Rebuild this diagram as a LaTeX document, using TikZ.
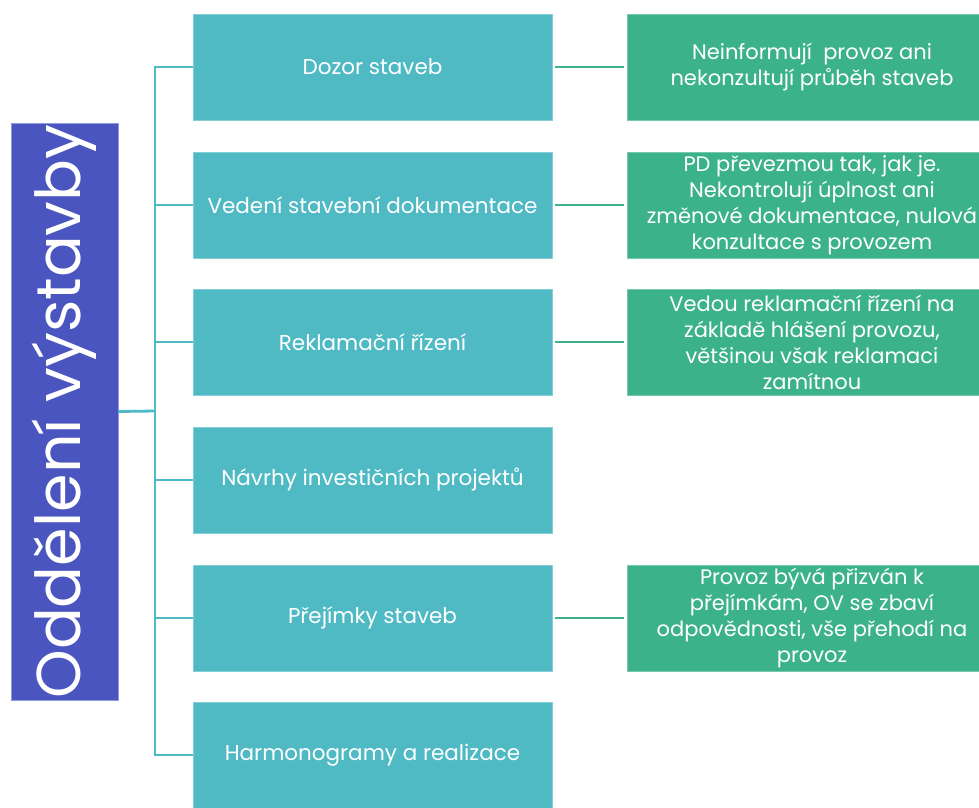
\documentclass[tikz,border=0pt]{standalone}
\usepackage{fontspec}
\setmainfont{Poppins}
\usetikzlibrary{positioning}

\definecolor{deptblue}{RGB}{75,85,192}
\definecolor{taskteal}{RGB}{79,185,196}
\definecolor{notegreen}{RGB}{60,178,139}

\tikzset{
  dept/.style={fill=deptblue, draw=deptblue!60!white, text=white, minimum width=107pt, minimum height=577pt, inner sep=0pt, font=\fontsize{62}{66}\selectfont},
  task/.style={fill=taskteal, draw=taskteal!70!white, text=white, minimum width=359pt, minimum height=106pt, inner sep=0pt, font=\fontsize{21.5}{26}\selectfont},
  note/.style={fill=notegreen, draw=notegreen!70!white, text=white, minimum width=370pt, minimum height=106pt, inner sep=0pt, align=center, font=\fontsize{21}{26}\selectfont},
  tline/.style={taskteal, line width=2.8pt},
  nline/.style={notegreen, line width=2.8pt}
}

\begin{document}
\begin{tikzpicture}[x=1pt, y=-1pt]
  \useasboundingbox (0,0) rectangle (979,807);
  \clip (0,0) rectangle (979,807);
  % department
  \node[dept] (dept) at (64.5,411.5) {\rotatebox{90}{Oddělení výstavby}};
  \coordinate (trunk) at (155,411);
  % tasks
  \node[task] (t1) at (372.5,67) {Dozor staveb};
  \node[task] (t2) at (372.5,205) {Vedení stavební dokumentace};
  \node[task] (t3) at (372.5,342) {Reklamační řízení};
  \node[task] (t4) at (372.5,480) {Návrhy investičních projektů};
  \node[task] (t5) at (372.5,618) {Přejímky staveb};
  \node[task] (t6) at (372.5,755) {Harmonogramy a realizace};
  % notes
  \node[note] (n1) at (812,67) {Neinformují\ \ provoz ani\\nekonzultují průběh staveb};
  \node[note] (n2) at (812,205) {PD převezmou tak, jak je.\\Nekontrolují úplnost ani\\změnové dokumentace, nulová\\konzultace s provozem};
  \node[note] (n3) at (812,342) {Vedou reklamační řízení na\\základě hlášení provozu,\\většinou však reklamaci\\zamítnou};
  \node[note] (n5) at (812,618) {Provoz bývá přizván k\\přejímkám, OV se zbaví\\odpovědnosti, vše přehodí na\\provoz};
  % connectors
  \draw[tline] (dept.east) -- (trunk);
  \draw[tline] (trunk) |- (t1.west);
  \draw[tline] (trunk) |- (t2.west);
  \draw[tline] (trunk) |- (t3.west);
  \draw[tline] (trunk) |- (t4.west);
  \draw[tline] (trunk) |- (t5.west);
  \draw[tline] (trunk) |- (t6.west);
  \draw[nline] ([xshift=3pt]t1.east) -- ([xshift=-3pt]n1.west);
  \draw[nline] ([xshift=3pt]t2.east) -- ([xshift=-3pt]n2.west);
  \draw[nline] ([xshift=3pt]t3.east) -- ([xshift=-3pt]n3.west);
  \draw[nline] ([xshift=3pt]t5.east) -- ([xshift=-3pt]n5.west);
\end{tikzpicture}
\end{document}
